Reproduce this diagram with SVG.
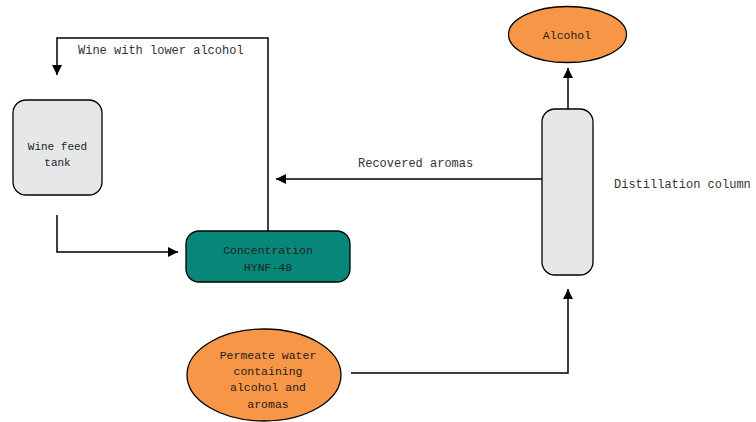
<svg xmlns="http://www.w3.org/2000/svg" width="756" height="422" viewBox="0 0 756 422">
<defs>
<marker id="ah" viewBox="0 0 10 10" refX="10" refY="5" markerWidth="10" markerHeight="10" markerUnits="userSpaceOnUse" orient="auto">
<path d="M0,0 L10,5 L0,10 z" fill="#000"/>
</marker>
<style>
.lbl{font-family:"Liberation Mono","DejaVu Sans Mono",monospace;font-size:12px;fill:#333}
.nt{font-family:"Liberation Mono","DejaVu Sans Mono",monospace;font-size:11.5px;fill:#222;text-anchor:middle}
.edge{fill:none;stroke:#000;stroke-width:1.5;marker-end:url(#ah)}
.box{stroke:#000;stroke-width:1.3}
</style>
</defs>
<rect width="756" height="422" fill="#fff"/>
<g id="connectors">
<path class="edge" d="M268,231 V38 H57 V75"/>
<path class="edge" d="M57,215 V252 H178"/>
<path class="edge" d="M542,179 H276"/>
<path class="edge" d="M568,109 V68"/>
<path class="edge" d="M351,373 H568 V289"/>
</g>
<g id="wine-feed-tank">
<rect class="box" x="13" y="100" width="89" height="95" rx="13" fill="#e6e7e9"/>
<text class="nt" x="57.5" y="150" style="font-size:11px">Wine feed</text>
<text class="nt" x="57.5" y="166" style="font-size:11px">tank</text>
</g>
<g id="concentration">
<rect class="box" x="186" y="231" width="164" height="51" rx="13" fill="#06877a"/>
<text class="nt" x="268" y="254">Concentration</text>
<text class="nt" x="268" y="271">HYNF-48</text>
</g>
<g id="permeate">
<ellipse class="box" cx="264" cy="375" rx="77" ry="46" fill="#f79646"/>
<text class="nt" x="268" y="359">Permeate water</text>
<text class="nt" x="268" y="375">containing</text>
<text class="nt" x="268" y="391">alcohol and</text>
<text class="nt" x="268" y="408">aromas</text>
</g>
<g id="alcohol">
<ellipse class="box" cx="567.5" cy="34.5" rx="59" ry="28" fill="#f79646"/>
<text class="nt" x="567" y="39">Alcohol</text>
</g>
<g id="distillation-column">
<rect class="box" x="542" y="109" width="51" height="166" rx="13" fill="#e6e7e9"/>
</g>
<text class="lbl" x="78" y="54">Wine with lower alcohol</text>
<text class="lbl" x="358" y="167">Recovered aromas</text>
<text class="lbl" x="614" y="188">Distillation column</text>
</svg>
